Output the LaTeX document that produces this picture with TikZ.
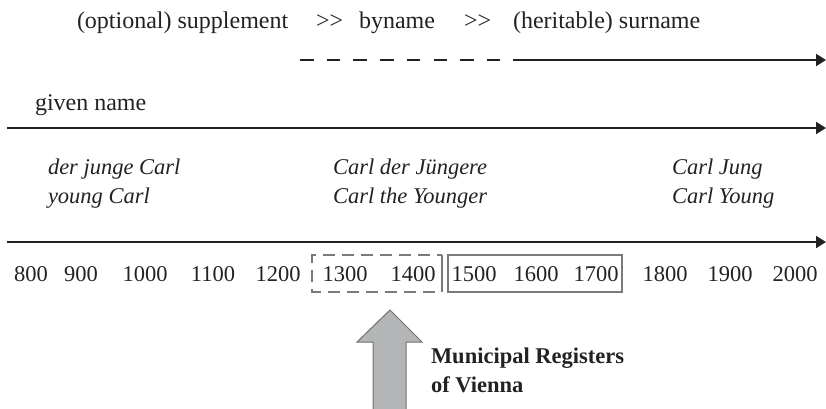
\documentclass[tikz,border=0pt]{standalone}
\usepackage{fontspec}
\setmainfont{Liberation Serif}
\usetikzlibrary{arrows.meta}
\definecolor{ink}{HTML}{222222}
\definecolor{boxgray}{HTML}{7A7A7A}
\definecolor{arrowfill}{HTML}{B3B5B7}
\definecolor{arrowedge}{HTML}{707070}
\begin{document}
\begin{tikzpicture}[x=1pt,y=-1pt,
  every node/.style={inner sep=0pt,outer sep=0pt,text=ink,font=\fontsize{22.5}{29}\selectfont},
  lbl/.style={anchor=base west,font=\fontsize{24}{29}\selectfont},
  yr/.style={anchor=base},
  itl/.style={anchor=base west,font=\fontsize{22.5}{29}\selectfont\itshape},
  timeline/.style={draw=ink,line width=2pt,-{Triangle[length=10pt,width=12pt]}},
  bylinedash/.style={draw=ink,line width=2pt,dash pattern=on 13.5pt off 13.2pt},
  periodbox/.style={draw=boxgray,line width=1.3pt},
  bigarrow/.style={fill=arrowfill,draw=arrowedge,line width=1pt}]
\useasboundingbox (0,0) rectangle (826,408);

% stages of the family name
\node[lbl] (supp) at (77,28) {(optional) supplement};
\node[lbl] (gt1) at (316,28) {{>}{>}};
\node[lbl] (byn) at (359,28) {byname};
\node[lbl] (gt2) at (464,28) {{>}{>}};
\node[lbl] (sur) at (513,28) {(heritable) surname};

% byname (dashed) turning into the surname (solid)
\coordinate (bstart) at (300,60);
\coordinate (bend) at (500.6,60);
\coordinate (sstart) at (513,60);
\coordinate (send) at (826,60);
\draw[bylinedash] (bstart) -- (bend);
\draw[timeline] (sstart) -- (send);

% given name
\node[lbl] (given) at (35,110) {given name};
\coordinate (gstart) at (7,128);
\coordinate (gend) at (826,128);
\draw[timeline] (gstart) -- (gend);

% examples
\node[itl] (ex1a) at (48,174) {der junge Carl};
\node[itl] (ex1b) at (48,203) {young Carl};
\node[itl] (ex2a) at (333,174) {Carl der Jüngere};
\node[itl] (ex2b) at (333,203) {Carl the Younger};
\node[itl] (ex3a) at (672,174) {Carl Jung};
\node[itl] (ex3b) at (672,203) {Carl Young};

% time axis
\coordinate (tstart) at (7,242);
\coordinate (tend) at (826,242);
\draw[timeline] (tstart) -- (tend);

\foreach \yr/\xc in {800/31,900/81,1000/145,1100/213,1200/278,1300/345,1400/413,
                     1500/474,1600/536,1700/596,1800/665,1900/730,2000/795}
  \node[yr] (y\yr) at (\xc,281) {\yr};

% periods: uncertain (dashed, closed by a solid edge) and attested (solid)
\draw[periodbox,dash pattern=on 12pt off 7pt,dash phase=7pt]
  (442,255) -- (312,255) -- (312,292) -- (442,292);
\draw[periodbox] (442,255) -- (442,292);
\draw[periodbox] (448,255) rectangle (622,292);

% source arrow
\draw[bigarrow] (390,310) -- (422,342) -- (406,342) -- (406,410) -- (373,410)
  -- (373,342) -- (357,342) -- cycle;
\node[lbl,font=\fontsize{22.5}{29}\selectfont\bfseries] (reg1) at (431,363) {Municipal Registers};
\node[lbl,font=\fontsize{22.5}{29}\selectfont\bfseries] (reg2) at (431,392) {of Vienna};
\end{tikzpicture}
\end{document}
